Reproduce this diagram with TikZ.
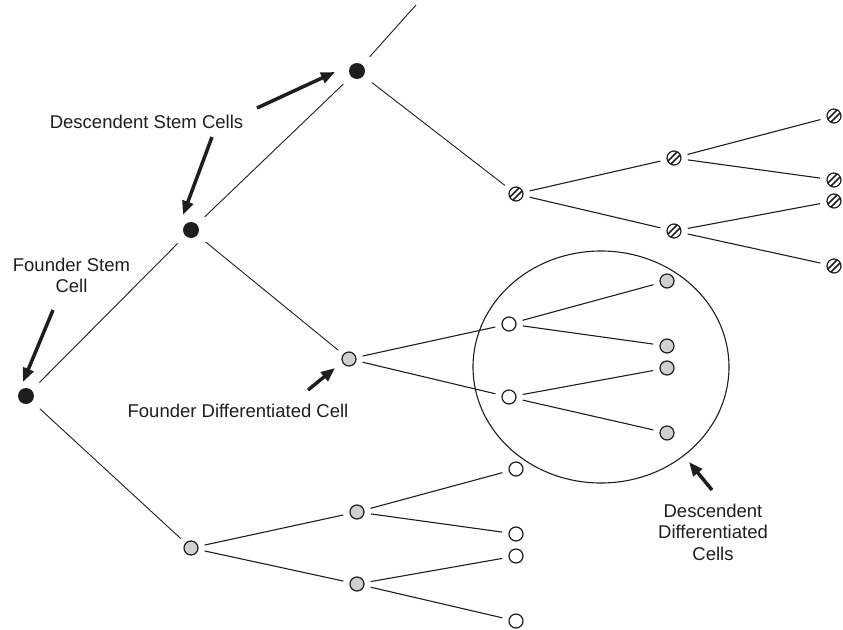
\documentclass[tikz,border=0pt]{standalone}
\usepackage{fontspec}
\setmainfont{Liberation Sans}
\usetikzlibrary{arrows.meta,shapes.geometric}
\definecolor{ink}{HTML}{1E1E1E}
\definecolor{cellgray}{HTML}{D0D0D0}
\begin{document}
\begin{tikzpicture}[x=1pt,y=-1pt,
  stem/.style={circle,fill=ink,draw=none,minimum size=16pt,inner sep=0pt,outer sep=4pt},
  cellbase/.style={circle,draw=ink,line width=1.2pt,minimum size=14pt,inner sep=0pt,outer sep=0pt},
  grayc/.style={cellbase,fill=cellgray},
  whitec/.style={cellbase,fill=white},
  hatch/.style={cellbase,fill=white,path picture={
      \draw[ink,line width=1.5pt]
        ([shift={(-8pt,-5pt)}]path picture bounding box.center) -- ([shift={(5pt,8pt)}]path picture bounding box.center)
        ([shift={(-5pt,-8pt)}]path picture bounding box.center) -- ([shift={(8pt,5pt)}]path picture bounding box.center);}},
  link/.style={draw=ink,line width=1.1pt,shorten <=7pt,shorten >=7pt},
  stemlink/.style={draw=ink,line width=0.9pt,shorten <=7pt,shorten >=7pt},
  pointer/.style={draw=ink,line width=3.5pt,-{Triangle[length=14pt,width=11pt]}},
  lbl/.style={text=ink,inner sep=0pt,font=\fontsize{18.5}{21.5}\selectfont,align=center}
]
\useasboundingbox (0,0) rectangle (843,629);

% stem cells
\node[stem] (F) at (26,396) {};
\node[stem] (S1) at (191,230) {};
\node[stem] (S2) at (357,71) {};
\coordinate (top) at (416,5);

% hatched branch
\node[hatch] (H0) at (516,194) {};
\node[hatch] (H1) at (674,158) {};
\node[hatch] (H2) at (674,231) {};
\node[hatch] (H11) at (834,116) {};
\node[hatch] (H12) at (834,180) {};
\node[hatch] (H21) at (834,201) {};
\node[hatch] (H22) at (834,266) {};

% founder differentiated branch
\node[grayc] (D) at (349,359) {};
\node[whitec] (W1) at (509,324) {};
\node[whitec] (W2) at (509,397) {};
\node[grayc] (W11) at (667,281) {};
\node[grayc] (W12) at (667,346) {};
\node[grayc] (W21) at (667,368) {};
\node[grayc] (W22) at (667,433) {};

% bottom branch
\node[grayc] (G) at (191,548) {};
\node[grayc] (G1) at (357,512) {};
\node[grayc] (G2) at (357,584) {};
\node[whitec] (G11) at (516,469) {};
\node[whitec] (G12) at (516,534) {};
\node[whitec] (G21) at (516,556) {};
\node[whitec] (G22) at (516,621) {};

% group ellipse
\node[draw=ink,line width=1.1pt,ellipse,minimum width=256pt,minimum height=232pt,inner sep=0pt] (grp) at (601,367) {};

% connectors
\draw[stemlink] (F) -- (S1);
\draw[stemlink] (S1) -- (S2);
\draw[stemlink,shorten >=0pt] (S2) -- (top);
\draw[stemlink] (S2) -- (H0);
\draw[stemlink] (S1) -- (D);
\draw[stemlink] (F) -- (G);

\draw[link] (H0) -- (H1);
\draw[link] (H0) -- (H2);
\draw[link] (H1) -- (H11);
\draw[link] (H1) -- (H12);
\draw[link] (H2) -- (H21);
\draw[link] (H2) -- (H22);

\draw[link] (D) -- (W1);
\draw[link] (D) -- (W2);
\draw[link] (W1) -- (W11);
\draw[link] (W1) -- (W12);
\draw[link] (W2) -- (W21);
\draw[link] (W2) -- (W22);

\draw[link] (G) -- (G1);
\draw[link] (G) -- (G2);
\draw[link] (G1) -- (G11);
\draw[link] (G1) -- (G12);
\draw[link] (G2) -- (G21);
\draw[link] (G2) -- (G22);

% labels
\node[lbl,anchor=base] (dsc) at (146.5,128) {Descendent Stem Cells};
\node[lbl,anchor=north] (fsc) at (71.5,257.5) {Founder Stem\\Cell};
\node[lbl,anchor=base] (fdc) at (238,417) {Founder Differentiated Cell};
\node[lbl,anchor=north] (ddc) at (713,503.5) {Descendent\\Differentiated\\Cells};

% pointer arrows
\coordinate (a1t) at (257,108); \coordinate (a1h) at (335,72);
\coordinate (a2t) at (212,137); \coordinate (a2h) at (183,215);
\coordinate (a3t) at (53,310);  \coordinate (a3h) at (23,382);
\coordinate (a4t) at (308,390); \coordinate (a4h) at (335,368);
\coordinate (a5t) at (712,490); \coordinate (a5h) at (689,462);
\draw[pointer] (a1t) -- (a1h);
\draw[pointer] (a2t) -- (a2h);
\draw[pointer] (a3t) -- (a3h);
\draw[pointer] (a4t) -- (a4h);
\draw[pointer] (a5t) -- (a5h);
\end{tikzpicture}
\end{document}
